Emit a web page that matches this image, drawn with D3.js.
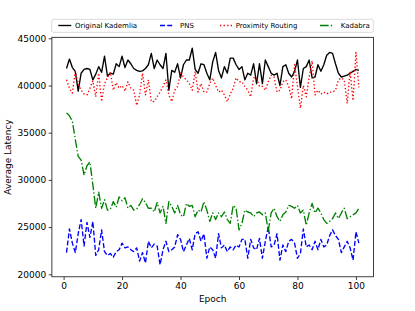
<!DOCTYPE html>
<html><head><meta charset="utf-8">
<script src="https://cdn.jsdelivr.net/npm/d3@7"></script>
<style>body{margin:0;background:#fff;}svg{display:block;font-family:"DejaVu Sans",sans-serif;}</style>
</head><body><svg id="c" width="415" height="311"></svg>
<script>
const epochs = d3.range(1, 102);
const originalKademlia = [41800,42800,41900,41500,39400,41300,41700,41800,41700,40600,41200,42000,41400,43100,41000,41300,41200,42300,42000,43100,41900,42700,42300,41800,41600,41500,41550,41800,42200,43400,41800,42700,42200,41800,43400,39500,41600,41400,42300,40800,42200,42700,42700,43950,41700,41300,42300,42200,41300,40600,42500,43500,41600,40800,42000,41300,42900,42900,42200,41700,42000,40600,41300,41100,42300,40200,42300,40200,42700,42000,41300,41100,41300,40000,42000,42200,41300,40900,41500,42700,39800,41800,42000,42700,40800,40900,42200,41500,42200,43200,43500,43400,42300,41300,40900,41000,41100,41300,41500,41700,41600];
const pns = [22300,24800,23300,22300,24300,25800,23000,25500,23900,25600,22000,22600,24700,22400,22000,22200,21800,22400,22600,23300,22800,22900,22600,22400,22800,21400,22300,21200,23500,22800,23200,23000,21000,22600,23500,22400,22600,22900,24200,23700,22400,23100,23800,22600,24300,24500,23500,24300,21700,22900,22600,21700,24300,22800,23100,22400,22900,22600,23100,22900,23700,23700,21700,23700,22800,22600,23800,21700,23500,25000,22900,23100,24300,21500,23100,22400,23500,23700,23300,21700,22200,24800,22900,23100,22600,23500,22600,23700,22900,23100,24100,24700,24100,23700,22300,22900,23500,22800,21500,24500,23300];
const proximityRouting = [40600,39700,39200,41500,40200,39500,39100,39000,39700,40500,38800,41300,38300,40200,40800,41400,39500,40300,39700,40000,39400,40400,39700,39500,37900,39000,41300,39000,40600,38300,38300,38800,39300,39900,40600,39000,38300,39500,39900,41300,40900,40600,40200,39500,41500,39300,40200,39300,39300,40200,40800,40000,39300,39500,39000,38300,39100,39700,40800,40400,40400,39900,39500,38800,40800,40800,39900,39900,39500,40400,41100,40900,39300,39500,40400,40600,39900,38600,42200,39900,37600,40000,38800,40900,42600,39000,39500,39100,39300,39100,39300,39300,39500,40600,40800,40600,38100,41500,38400,43500,39800];
const kadabra = [37100,36800,36200,34300,32500,32100,30500,31500,31900,29500,27000,28700,27000,27900,26800,26900,27700,27100,28200,27800,28100,27000,27300,26800,26900,27400,28000,27600,27000,27000,26600,27600,26500,27200,25400,27700,27200,26500,27300,26300,26100,27500,27200,27300,26100,26800,26600,27700,26800,25600,26500,25800,26500,26100,26600,25800,25400,27300,27000,24700,25400,26800,26600,26500,26100,26500,26600,26300,26500,24600,26500,27000,26100,25600,26300,26600,27300,27200,27000,27300,26500,26800,25200,26500,27500,26500,27000,26500,25800,25400,25600,25900,26500,25900,26500,27000,25900,26100,26300,26500,27000];
const seriesNames = ["Original Kademlia","PNS","Proximity Routing","Kadabra"];
const xTicks = [0,20,40,60,80,100];
const yTicks = [20000,25000,30000,35000,40000,45000];

const styles = [
  {color:"#000000", dash:null},
  {color:"#0000ff", dash:"5,2.2"},
  {color:"#ff0000", dash:"1.35,2.2"},
  {color:"#008000", dash:"8.6,2.2,1.35,2.2"}
];
const allSeries = [originalKademlia, pns, proximityRouting, kadabra];

const svg = d3.select("#c");
const L=51.9, R=373.5, T=37.3, B=276.8;
const x = d3.scaleLinear().domain([-4,106]).range([L,R]);
const y = d3.scaleLinear().domain([19735,45106]).range([B,T]);

const line = d3.line().x((d,i)=>x(epochs[i])).y(d=>y(d));
const g = svg.append("g");
allSeries.forEach((s,k)=>{
  g.append("path").datum(s).attr("d",line).attr("fill","none")
   .attr("stroke",styles[k].color).attr("stroke-width",1.35)
   .attr("stroke-dasharray",styles[k].dash).attr("stroke-linejoin","round");
});

svg.append("rect").attr("x",L).attr("y",T).attr("width",R-L).attr("height",B-T)
  .attr("fill","none").attr("stroke","#000").attr("stroke-width",0.75);

const xa = svg.append("g").attr("transform",`translate(0,${B})`)
  .call(d3.axisBottom(x).tickValues(xTicks).tickSize(3.2).tickPadding(2.5).tickFormat(d3.format("d")));
const ya = svg.append("g").attr("transform",`translate(${L},0)`)
  .call(d3.axisLeft(y).tickValues(yTicks).tickSize(3.2).tickPadding(2.5).tickFormat(d3.format("d")));
[xa,ya].forEach(a=>{
  a.select(".domain").remove();
  a.selectAll("line").attr("stroke","#000").attr("stroke-width",0.75);
  a.selectAll("text").attr("font-size","9px").attr("font-family","DejaVu Sans").attr("fill","#000");
});

svg.append("text").attr("x",(L+R)/2).attr("y",302).attr("text-anchor","middle")
  .attr("font-size","9px").text("Epoch");
svg.append("text").attr("transform",`translate(11,${(T+B)/2}) rotate(-90)`).attr("text-anchor","middle")
  .attr("font-size","9px").text("Average Latency");

const lg = svg.append("g");
lg.append("rect").attr("x",51.7).attr("y",19.3).attr("width",321.6).attr("height",13).attr("rx",1.5)
  .attr("fill","#fff").attr("fill-opacity",0.8).attr("stroke","#cccccc").attr("stroke-width",0.75);
const hx = [58.3,160,220,320];
const tx = [75,180,235.7,340.7];
seriesNames.forEach((n,k)=>{
  lg.append("line").attr("x1",hx[k]).attr("x2",hx[k]+13).attr("y1",25.5).attr("y2",25.5)
    .attr("stroke",styles[k].color).attr("stroke-width",1.35).attr("stroke-dasharray",styles[k].dash);
  lg.append("text").attr("x",tx[k]).attr("y",28).attr("font-size","7px").text(n);
});
</script></body></html>
